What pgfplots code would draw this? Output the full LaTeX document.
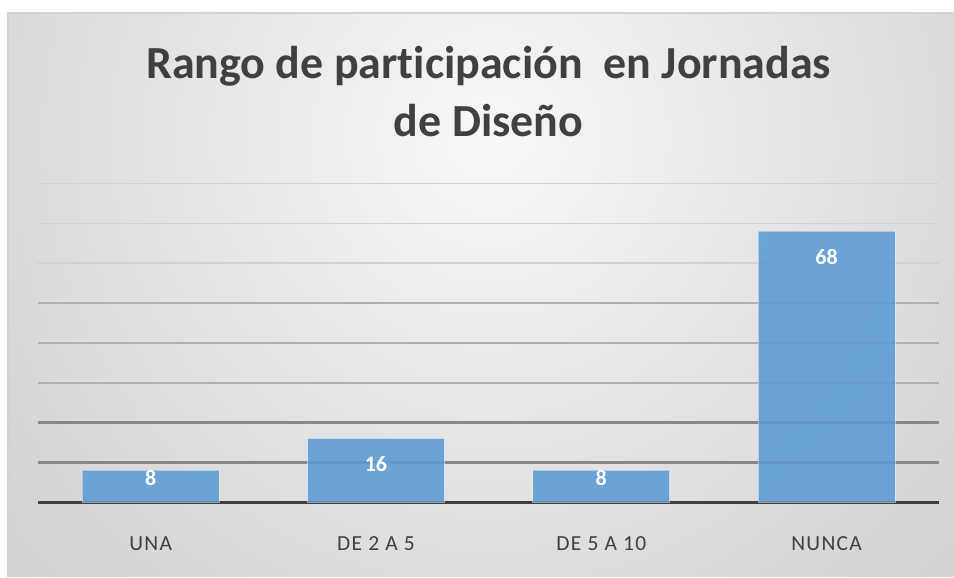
\documentclass[border=0pt]{standalone}
\usepackage{fontspec}
\setmainfont{Carlito}[Ligatures=NoCommon]
\newfontfamily\tickfont{Carlito}[LetterSpace=6.0]
\usepackage{pgfplots}
\pgfplotsset{compat=1.18}
\definecolor{barblue}{RGB}{91,155,213}
\definecolor{textgray}{RGB}{64,64,64}
\definecolor{gridlight}{RGB}{210,210,210}
\definecolor{gridmid}{RGB}{176,176,176}
\definecolor{griddark}{RGB}{136,136,136}
\definecolor{baseline}{RGB}{64,64,64}

\begin{document}
\begin{tikzpicture}[x=1pt,y=1pt]
% page and chart area
\fill[white] (0,0) rectangle (954,577);
\begin{scope}
  \clip (8,0) rectangle (954,564);
  \shade[inner color=gray!6, outer color=gray!48] (490,440) circle (900);
\end{scope}
\draw[gray!35, line width=1.5pt] (8,0) -- (8,564) -- (954,564);

% title
\node[text=textgray, anchor=base, font=\bfseries\fontsize{46}{56}\selectfont]
  at (489,498) {Rango de participación\ \ en Jornadas};
\node[text=textgray, anchor=base, font=\bfseries\fontsize{46}{56}\selectfont]
  at (489,440) {de Diseño};

\begin{axis}[
  at={(38pt,74.5pt)}, anchor=south west,
  scale only axis, width=902pt, height=319pt,
  xmin=-0.5, xmax=3.5, ymin=0, ymax=80,
  axis x line*=bottom, axis y line*=left,
  x axis line style={color=baseline, line width=3pt, -},
  y axis line style={draw=none},
  /pgf/number format/assume math mode=true,
  xtick={0,1,2,3},
  xticklabels={UNA, DE 2 A 5, DE 5 A 10, NUNCA},
  xtick style={draw=none},
  xticklabel style={text=textgray, font=\tickfont\fontsize{21.5}{21.5}\selectfont,
    anchor=center, yshift=-42pt},
  ytick={60,70,80}, minor ytick={30,40,50},
  extra y ticks={10,20}, extra y tick labels={},
  yticklabels={}, ytick style={draw=none}, minor tick style={draw=none},
  ymajorgrids, yminorgrids,
  major grid style={color=gridlight, line width=1.3pt},
  minor grid style={color=gridmid, line width=1.9pt},
  extra y tick style={grid=major, major grid style={color=griddark, line width=2.6pt},
    tick style={draw=none}},
  clip=false,
]
\addplot[ybar, bar width=137pt, fill=barblue, fill opacity=0.88,
  draw=white, draw opacity=0.45, line width=1pt,
  visualization depends on={y \as \rawy},
  nodes near coords,
  nodes near coords style={text=white, fill opacity=1, text opacity=1,
    font=\bfseries\fontsize{22}{22}\selectfont, anchor=center,
    yshift={ifthenelse(\rawy<10,-8,-26)}},
] coordinates {(0,8) (1,16) (2,8) (3,68)};
\end{axis}
\end{tikzpicture}
\end{document}
